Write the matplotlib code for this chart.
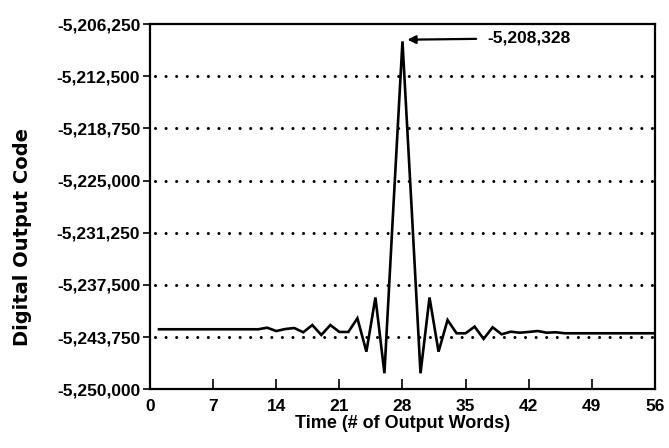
import matplotlib
matplotlib.use("Agg")
import matplotlib.pyplot as plt

plt.rcParams['font.family'] = ['Liberation Sans', 'DejaVu Sans']
plt.rcParams['font.weight'] = 'bold'

# Data (time in output words, digital output code)
time_words = list(range(1, 57))
output_code = [
    -5242810, -5242810, -5242810, -5242810, -5242810, -5242810,   # 1-6
    -5242810, -5242810, -5242810, -5242810, -5242810, -5242810,   # 7-12
    -5242620, -5243020, -5242780, -5242660, -5243170, -5242300,   # 13-18
    -5243490, -5242300, -5243130, -5243130, -5241490, -5245490,   # 19-24
    -5239000, -5248080, -5228000, -5208328, -5228000, -5248080,   # 25-30
    -5239000, -5245490, -5241700, -5243290, -5243290, -5242490,   # 31-36
    -5243960, -5242570, -5243410, -5243100, -5243220, -5243130,   # 37-42
    -5243020, -5243220, -5243170, -5243290, -5243290, -5243290,   # 43-48
    -5243290, -5243290, -5243290, -5243290, -5243290, -5243290,   # 49-54
    -5243290, -5243290,                                           # 55-56
]

x_ticks = [0, 7, 14, 21, 28, 35, 42, 49, 56]
y_ticks = [-5250000, -5243750, -5237500, -5231250, -5225000,
           -5218750, -5212500, -5206250]
y_tick_labels = ["-5,250,000", "-5,243,750", "-5,237,500", "-5,231,250",
                 "-5,225,000", "-5,218,750", "-5,212,500", "-5,206,250"]
grid_levels = y_ticks[1:-1]
peak_x = 28
peak_value = -5208328
peak_label = "-5,208,328"

fig = plt.figure(figsize=(6.69, 4.48), dpi=100)
ax = fig.add_axes([0.2242, 0.131, 0.7548, 0.8154])

for g in grid_levels:
    ax.plot([x_ticks[0] + 0.6, x_ticks[-1]], [g, g], color='black', lw=2.2,
            linestyle=(0, (0.01, 3.45)), dash_capstyle='round', zorder=1)

ax.plot(time_words, output_code, color='black', lw=1.9, zorder=3,
        solid_joinstyle='miter')

ax.set_xlim(x_ticks[0], x_ticks[-1])
ax.set_ylim(y_ticks[0], y_ticks[-1])
ax.set_xticks(x_ticks)
ax.set_xticklabels([str(t) for t in x_ticks], fontsize=12.5, fontweight='bold')
ax.set_yticks(y_ticks)
ax.set_yticklabels(y_tick_labels, fontsize=12.5, fontweight='bold')

ax.tick_params(axis='x', direction='in', length=7, width=1.2, pad=7)
ax.tick_params(axis='y', direction='out', length=5, width=1.2, pad=2)
for s in ax.spines.values():
    s.set_linewidth(1.6)

ax.set_xlabel("Time (# of Output Words)", fontsize=13, fontweight='bold', labelpad=1)
fig.text(0.034, 0.47, "Digital Output Code", rotation=90, fontsize=14,
         fontweight='bold', family=['DejaVu Sans'], ha='center', va='center')

ax.annotate(peak_label, xy=(peak_x + 0.55, peak_value + 200),
            xytext=(37.4, -5207950), fontsize=12.5, fontweight='bold',
            va='center', ha='left',
            arrowprops=dict(arrowstyle='-|>', color='black', lw=1.6,
                            mutation_scale=12, shrinkA=6, shrinkB=0))

fig.savefig("out.png", dpi=100)
